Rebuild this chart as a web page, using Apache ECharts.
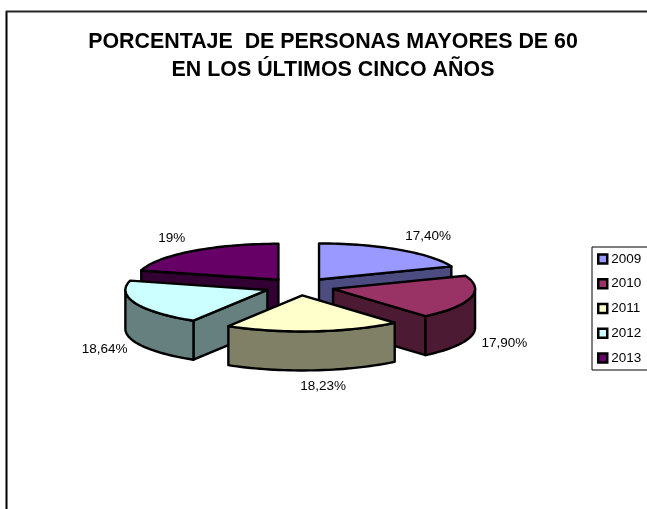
<!DOCTYPE html>
<html>
<head>
<meta charset="utf-8">
<style>
  html, body { margin: 0; padding: 0; background: #fff; }
  #chart { width: 647px; height: 509px; overflow: hidden; }
</style>
<script src="https://cdn.jsdelivr.net/npm/echarts@6/dist/echarts.min.js"></script>
</head>
<body>
<div id="chart"></div>
<script>
const years = ['2009', '2010', '2011', '2012', '2013'];
const values = [17.4, 17.9, 18.23, 18.64, 19];
const valueLabels = ['17,40%', '17,90%', '18,23%', '18,64%', '19%'];
const topColors = ['#9999ff', '#993366', '#ffffcc', '#ccffff', '#660066'];
const sideColors = ['#4c4c80', '#4d1a33', '#808066', '#668080', '#330033'];
const labelNudge = [[12, -1], [4.5, 5], [7, 3], [-3, 3], [-2, -1]];

// geometria del "pastel 3D"
const cx = 299.5, cy = 286.7;
const rx = 142, ry = 36;
const depth = 39;
const explode = 34.6;
const total = values.reduce((a, b) => a + b, 0);

const rad = d => d * Math.PI / 180;

function rimPoint(ox, oy, deg, dy) {
    return [ox + rx * Math.sin(rad(deg)), oy - ry * Math.cos(rad(deg)) + (dy || 0)];
}

function arcPoints(ox, oy, from, to, dy) {
    const pts = [];
    const steps = Math.max(2, Math.ceil(Math.abs(to - from) / 2));
    for (let k = 0; k <= steps; k++) {
        pts.push(rimPoint(ox, oy, from + (to - from) * k / steps, dy));
    }
    return pts;
}

function renderSlice(params, api) {
    const i = params.seriesIndex;
    const before = values.slice(0, i).reduce((a, b) => a + b, 0);
    const start = before / total * 360;
    const end = start + api.value(0) / total * 360;
    const mid = (start + end) / 2;
    const ox = cx + explode * Math.sin(rad(mid));
    const oy = cy - explode * (ry / rx) * Math.cos(rad(mid));
    const z2 = Math.round(-Math.cos(rad(mid)) * 100);

    const line = { stroke: '#000', lineWidth: 2.4, lineJoin: 'round' };
    const children = [];
    const addPoly = (points, fill, order) => {
        children.push({
            type: 'polygon',
            z2: z2 + order,
            shape: { points },
            style: Object.assign({ fill }, line)
        });
    };

    // paredes radiales visibles
    [[start, Math.sin(rad(start)) < -0.001], [end, Math.sin(rad(end)) > 0.001]].forEach(([deg, show]) => {
        if (!show) return;
        const rim = rimPoint(ox, oy, deg);
        addPoly([[ox, oy], rim, [rim[0], rim[1] + depth], [ox, oy + depth]], sideColors[i], 0);
    });

    // pared exterior, solo la mitad delantera
    const from = Math.max(start, 90), to = Math.min(end, 270);
    if (to > from) {
        const upper = arcPoints(ox, oy, from, to, 0);
        const lower = arcPoints(ox, oy, to, from, depth);
        addPoly(upper.concat(lower), sideColors[i], 1);
    }

    // cara superior
    addPoly([[ox, oy]].concat(arcPoints(ox, oy, start, end, 0)), topColors[i], 2);

    // etiqueta
    const front = Math.cos(rad(mid)) < 0;
    const anchor = rimPoint(ox, oy, mid, front ? 37 : 0);
    children.push({
        type: 'text',
        z2: 300,
        style: {
            text: valueLabels[i],
            x: anchor[0] + 30 * Math.sin(rad(mid)) + labelNudge[i][0],
            y: anchor[1] - 15 * Math.cos(rad(mid)) + labelNudge[i][1],
            align: 'center',
            verticalAlign: 'middle',
            fill: '#000',
            font: '13.5px "Liberation Sans", Arial, sans-serif'
        }
    });
    return { type: 'group', children };
}

const myChart = echarts.init(document.getElementById('chart'), null, { renderer: 'canvas' });
const option = {
    animation: false,
    backgroundColor: '#fff',
    title: {
        text: 'PORCENTAJE  DE PERSONAS MAYORES DE 60\nEN LOS ÚLTIMOS CINCO AÑOS',
        left: 328,
        top: 23,
        textAlign: 'center',
        textStyle: {
            fontFamily: '"Liberation Sans", Arial, sans-serif',
            fontSize: 21.4,
            fontWeight: 'bold',
            lineHeight: 28,
            color: '#000'
        }
    },
    legend: {
        orient: 'vertical',
        left: 592,
        top: 247,
        padding: [5, 30, 5, 5],
        itemGap: 10.75,
        itemWidth: 9,
        itemHeight: 9,
        backgroundColor: '#fff',
        borderColor: '#000',
        borderWidth: 1,
        icon: 'rect',
        selectedMode: false,
        textStyle: {
            fontFamily: '"Liberation Sans", Arial, sans-serif',
            fontSize: 13.5,
            color: '#000',
            padding: [0, 0, 0, -1]
        },
        data: years.map((name, i) => ({
            name,
            itemStyle: { color: topColors[i], borderColor: '#000', borderWidth: 2.5 }
        }))
    },
    graphic: [
        { type: 'line', silent: true, shape: { x1: 6.5, y1: 11, x2: 6.5, y2: 509 }, style: { stroke: '#000', lineWidth: 2 } },
        { type: 'line', silent: true, shape: { x1: 6, y1: 11.5, x2: 647, y2: 11.5 }, style: { stroke: '#222', lineWidth: 2 } }
    ],
    series: years.map((name, i) => ({
        type: 'custom',
        name,
        coordinateSystem: 'none',
        silent: true,
        itemStyle: { color: topColors[i] },
        data: [[values[i]]],
        renderItem: renderSlice
    }))
};
myChart.setOption(option);
</script>
</body>
</html>
